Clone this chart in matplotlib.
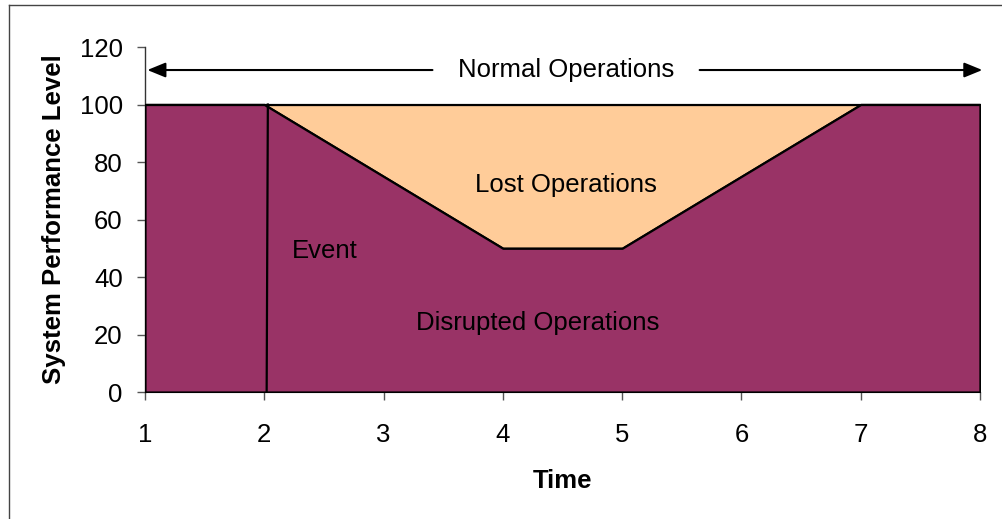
import matplotlib
matplotlib.use("Agg")
import matplotlib.pyplot as plt
from matplotlib.lines import Line2D

plt.rcParams['font.family'] = ['Liberation Sans', 'DejaVu Sans']

# Data
time = [1, 2, 4, 5, 7, 8]
performance = [100, 100, 50, 50, 100, 100]
normal_level = [100, 100, 100, 100, 100, 100]
event_x = [2.03, 2.02]
event_y = [100, 0]
x_ticks = [1, 2, 3, 4, 5, 6, 7, 8]
y_ticks = [0, 20, 40, 60, 80, 100, 120]

purple = '#993366'
peach = '#FFCC99'
FS = 18.5

fig = plt.figure(figsize=(10.02, 5.19), dpi=100)
ax = fig.add_axes([0.1447, 0.2447, 0.978 - 0.1447, 0.9094 - 0.2447])

ax.fill_between(time, performance, normal_level, facecolor=peach,
                edgecolor='black', linewidth=1.6, zorder=2)
ax.fill_between(time, 0, performance, facecolor=purple,
                edgecolor='black', linewidth=1.6, zorder=3)
ax.plot(event_x, event_y, color='black', linewidth=1.6, zorder=4)

ax.set_xlim(1, 8)
ax.set_ylim(0, 120)
ax.set_xticks(x_ticks)
ax.set_yticks(y_ticks)
ax.tick_params(axis='both', labelsize=FS, length=6, color='#555555',
               direction='out', width=1)
ax.tick_params(axis='x', pad=16)
ax.tick_params(axis='y', pad=10)
for s in ['top', 'right']:
    ax.spines[s].set_visible(False)
ax.spines['left'].set_color('#333333')
ax.spines['bottom'].set_color('black')
ax.spines['left'].set_linewidth(1)

ax.set_xlabel('Time', fontsize=FS, fontweight='bold', labelpad=16)
ax.set_ylabel('System Performance Level', fontsize=FS, fontweight='bold', labelpad=10)

# Normal operations arrows
arrow_style = dict(arrowstyle='-|>,head_length=1.1,head_width=0.45',
                   color='black', lw=1.5, shrinkA=0, shrinkB=0)
ax.annotate('', xy=(1.02, 112), xytext=(3.41, 112), arrowprops=arrow_style,
            annotation_clip=False, zorder=5)
ax.annotate('', xy=(8.02, 112), xytext=(5.65, 112), arrowprops=arrow_style,
            annotation_clip=False, zorder=5)
ax.text(4.53, 112, 'Normal Operations', fontsize=FS, ha='center', va='center', zorder=6)

ax.text(4.53, 72, 'Lost Operations', fontsize=FS, ha='center', va='center', zorder=6)
ax.text(2.51, 49, 'Event', fontsize=FS, ha='center', va='center', zorder=6)
ax.text(4.29, 24, 'Disrupted Operations', fontsize=FS, ha='center', va='center', zorder=6)

# Figure frame (left and top edges)
fig.add_artist(Line2D([9 / 1002, 9 / 1002], [0, 1 - 5 / 519], transform=fig.transFigure,
                      color='#444444', linewidth=1))
fig.add_artist(Line2D([9 / 1002, 1], [1 - 5 / 519, 1 - 5 / 519], transform=fig.transFigure,
                      color='#444444', linewidth=1))

fig.savefig('out.png', dpi=100)
